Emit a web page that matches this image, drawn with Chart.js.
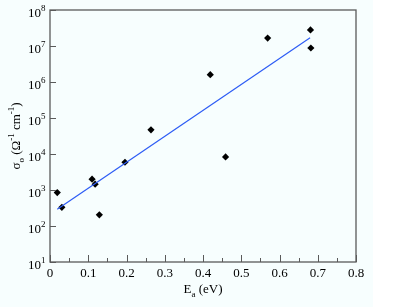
<!DOCTYPE html>
<html>
<head>
<meta charset="utf-8">
<script src="https://cdn.jsdelivr.net/npm/chart.js@4/dist/chart.umd.min.js"></script>
<style>
  html, body { margin: 0; padding: 0; background: #fff; }
  #wrap { width: 399px; height: 307px; }
</style>
</head>
<body>
<div id="wrap"><canvas id="c" width="399" height="307"></canvas></div>
<script>
// Activation energy vs conductivity prefactor, with log-linear fit.
const energies = [0.019, 0.031, 0.110, 0.118, 0.129, 0.196, 0.264, 0.419, 0.459, 0.569, 0.681, 0.682];
const sigmas = [850, 330, 2000, 1450, 205, 5900, 47000, 1.6e6, 8300, 1.66e7, 2.8e7, 8.8e6];
const fitX = [0.019, 0.680];
const fitY = [290, 1.7e7];
const xTicks = [0, 0.1, 0.2, 0.3, 0.4, 0.5, 0.6, 0.7, 0.8];
const xMinorTicks = [0.05, 0.15, 0.25, 0.35, 0.45, 0.55, 0.65, 0.75];
const yExponents = [1, 2, 3, 4, 5, 6, 7, 8];

const SERIF = '"Liberation Serif", "DejaVu Serif", serif';

// draw a run of text pieces: [text, size, dy]
function richText(ctx, parts, x, y, align) {
  let total = 0;
  for (const [t, size] of parts) {
    ctx.font = `${size}px ${SERIF}`;
    total += ctx.measureText(t).width;
  }
  let cx = align === "center" ? x - total / 2 : align === "right" ? x - total : x;
  for (const [t, size, dy] of parts) {
    ctx.font = `${size}px ${SERIF}`;
    ctx.fillText(t, cx, y + dy);
    cx += ctx.measureText(t).width;
  }
}

const axesPlugin = {
  id: "axesPlugin",
  beforeDraw(chart) {
    const ctx = chart.ctx;
    ctx.save();
    ctx.fillStyle = "#f7fefe";
    ctx.fillRect(0, 0, 373, chart.height);
    ctx.restore();
  },
  afterDatasetsDraw(chart) {
    const { ctx, chartArea: a, scales: { x, y } } = chart;
    ctx.save();
    // frame
    ctx.strokeStyle = "#5a5a5a";
    ctx.lineWidth = 1.3;
    ctx.strokeRect(a.left, a.top, a.right - a.left, a.bottom - a.top);

    // inward ticks
    ctx.beginPath();
    for (const v of xTicks) {
      const px = Math.round(x.getPixelForValue(v)) + 0.5;
      ctx.moveTo(px, a.bottom); ctx.lineTo(px, a.bottom - 7);
    }
    for (const v of xMinorTicks) {
      const px = Math.round(x.getPixelForValue(v)) + 0.5;
      ctx.moveTo(px, a.bottom); ctx.lineTo(px, a.bottom - 4);
    }
    for (const e of yExponents) {
      const py = Math.round(y.getPixelForValue(Math.pow(10, e))) + 0.5;
      ctx.moveTo(a.left, py); ctx.lineTo(a.left + 6, py);
    }
    ctx.lineWidth = 1;
    ctx.stroke();

    // tick labels
    ctx.fillStyle = "#000";
    ctx.textBaseline = "alphabetic";
    ctx.textAlign = "left";
    for (const v of xTicks) {
      const px = x.getPixelForValue(v);
      richText(ctx, [[v === 0 ? "0" : v.toFixed(1), 13, 0]], px, a.bottom + 14.5, "center");
    }
    for (const e of yExponents) {
      const py = y.getPixelForValue(Math.pow(10, e));
      ctx.font = `13px ${SERIF}`;
      const w = ctx.measureText("10").width;
      richText(ctx, [["10", 13, 0]], 41, py + 7, "right");
      richText(ctx, [[String(e), 9, 0]], 41, py + 0.5, "left");
    }

    // x title
    richText(ctx, [["E", 13, 0], ["a", 9, 4], [" (eV)", 13, 0]], (a.left + a.right) / 2, a.bottom + 31, "center");

    // y title, rotated
    ctx.translate(20, (a.top + a.bottom) / 2);
    ctx.rotate(-Math.PI / 2);
    richText(ctx, [["\u03c3", 13, 0], ["o", 9, 4], [" (\u03a9", 13, 0], ["-1", 9, -6], [" cm", 13, 0], ["-1", 9, -6], [")", 13, 0]], 0, 0, "center");
    ctx.restore();
  }
};

new Chart(document.getElementById("c"), {
  type: "scatter",
  data: {
    datasets: [
      {
        label: "fit",
        type: "line",
        data: fitX.map((v, i) => ({ x: v, y: fitY[i] })),
        borderColor: "#2d5cf5",
        borderWidth: 1.2,
        pointRadius: 0,
        fill: false,
      },
      {
        label: "data",
        data: energies.map((v, i) => ({ x: v, y: sigmas[i] })),
        pointStyle: "rectRot",
        pointRadius: 3.6,
        backgroundColor: "#000",
        borderColor: "#000",
        borderWidth: 0,
      },
    ],
  },
  options: {
    responsive: false,
    animation: false,
    layout: { padding: { left: 50, top: 10, right: 43, bottom: 45 } },
    plugins: { legend: { display: false }, tooltip: { enabled: false } },
    scales: {
      x: { type: "linear", min: 0, max: 0.8, display: false },
      y: { type: "logarithmic", min: 10, max: 1e8, display: false },
    },
  },
  plugins: [axesPlugin],
});
</script>
</body>
</html>
